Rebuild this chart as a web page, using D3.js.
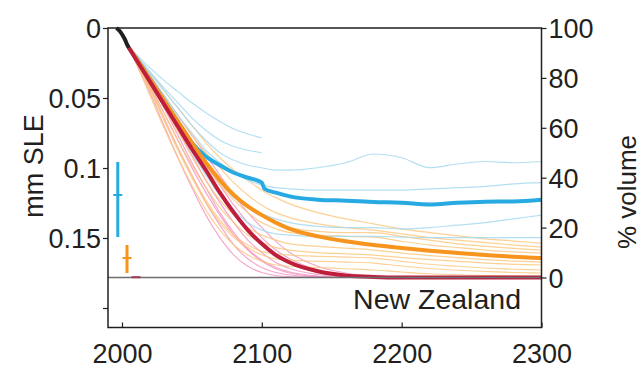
<!DOCTYPE html>
<html><head><meta charset="utf-8">
<script src="https://cdn.jsdelivr.net/npm/d3@7"></script>
<style>
body{margin:0;background:#fff}
text{font-family:"Liberation Sans",Arial,Helvetica,sans-serif;fill:#231f20}
</style>
</head><body>
<svg id="c" width="641" height="375"></svg>
<script>
// ---------- data (volume in %, SLE in mm) ----------
const years = [2005,2010,2020,2030,2040,2050,2060,2070,2080,2090,2100,2110,2120,2140,2160,2180,2200,2220,2240,2260,2280,2300];
const histYears = [1996,1998,2000,2002,2004,2005];
const histVolume = [100,99,97.5,95.5,93,92];

const redMean    = [92,87.5,78.5,69.5,60.5,51.5,43,34,26,19,13.5,9,6,2.5,0.8,0.2,0,0,0,0,0,0];
const orangeMean = [92,88,79.5,71,62.5,54,46,39,33,28.5,25,22,19.5,16.5,14.5,13,11.8,10.7,9.8,9,8.3,7.8];
const blueMeanYears = [2005,2010,2020,2030,2040,2050,2060,2070,2080,2090,2100,2102,2110,2120,2140,2160,2180,2200,2220,2240,2260,2280,2300];
const blueMean      = [92,88,79.5,71,62.5,54,48.5,45,42,40,38,35.5,34,32.5,31.2,30.8,30.3,30,29.3,30,30.4,30.5,31.2];

const pinkMembers = [
  [92,86,74,61,48,36,25,16,9,4.5,2,0.8,0.3,0,0,0,0,0,0,0,0,0],
  [92,87,76,64,52,41,30,21,13,7.5,4,2,1,0.2,0,0,0,0,0,0,0,0],
  [92,88,78,68,57,46,36,26,18,11.5,7,4,2.2,0.6,0.1,0,0,0,0,0,0,0],
  [92,88,79,70,61,52,43,34,26,19,13,8.5,5.5,2,0.6,0.1,0,0,0,0,0,0],
  [92,89,81,73,65,57,49,41,33,26,20,14.5,10,4.5,1.8,0.5,0.1,0,0,0,0,0],
  [92,87.5,77,66,55,44,34,25,17,11,6.5,3.5,1.8,0.4,0,0,0,0,0,0,0,0],
  [92,88.5,80,71.5,63,54,46,37,29,22,16,11,7.5,3,1,0.3,0,0,0,0,0,0],
  [92,88,78.5,69,59,49,39,30,22,15,10,6,3.6,1.2,0.3,0,0,0,0,0,0,0]
];
const orangeMembers = [
  [92,89,82,75,68,61,54,48,43,39,35,32,29.5,26,23.5,21.5,19.5,18,16.7,15.5,14.6,13.8],
  [92,89,81,73,65,57,50,44,38,33,29,26,24,21.5,20,19,17.5,16,15,14,13,12.2],
  [92,88.5,80,72,63,55,47,40,34,29,25,22,20,18.5,18,18,16.5,15,13.5,12.5,11.7,11],
  [92,88,79,70,61,52,44,37,31,26,22,19.5,18,17,16.5,16.2,14.5,13,12,11,10.3,9.8],
  [92,88,78.5,68.5,58.5,48.5,39,31,25,20,17,15,13.5,12.5,11.8,11,9.8,8.8,8,7.2,6.6,6.2],
  [92,87.5,77,66,55,45,36,28,22,17,14,12,11,10,9.5,9,8,7.2,6.5,5.8,5.3,5],
  [92,87,76,64,52,41,31,23,17,13,10.5,9.5,9,8.5,8.2,7.8,6.5,5.3,4.5,3.8,3.3,3],
  [92,86.5,75,63,51,40,30,22,16,12,9,7.5,7,6.5,6.2,5.8,4.6,3.6,2.9,2.4,2,1.8],
  [92,86,73,60,48,37,27,19,13,9,6.5,5,4.5,4,3.5,3,2.2,1.5,1.1,0.8,0.6,0.5]
];
const blueMembers = [
  [92,89.5,84,79,74.5,70,66,62.5,59.5,57.5,56,null,null,null,null,null,null,null,null,null,null,null],
  [92,89,82.5,76,70,64,59,55,52.5,51,50,null,null,null,null,null,null,null,null,null,null,null],
  [92,89,82,75,68,61,55,50,47,45,44,43,43,44,46,49.5,48,44,45.5,46.5,46,46.5],
  [92,89,81,73,65,58,51,46,42,39,37,36,35.5,35,35,35,35,35.5,36,36.5,37.5,38],
  [92,88.5,80,71,62,53,45,38,32,28,25.5,23.5,22,20.5,20,20,19.5,20,21,22,23.5,25],
  [92,88,79,70,60,50,41,33,27,22,19,17.5,17,16.5,16.5,16.5,16.2,16,16,16,16,16]
];

// uncertainty bars (mm SLE)
const errYears = [1997, 2003.6, 2010];
const errLow   = [0.0957, 0.155, 0.178];
const errMid   = [0.1193, 0.1643, 0.178];
const errHigh  = [0.1493, 0.175, 0.178];
const errColors = ["#27aae1", "#f7941d", "#a3384f"];

const sleTicks = [0, 0.05, 0.1, 0.15, 0.2];
const sleTickLabels = ["0", "0.05", "0.1", "0.15", ""];
const volTicks = [0, 20, 40, 60, 80, 100];
const yearTicks = [2000, 2100, 2200, 2300];
const regionName = "New Zealand";

// ---------- layout ----------
const L = 108, R = 541.5, T = 28, B = 327.5;
const svg = d3.select("#c");
const x = d3.scaleLinear().domain([1990, 2300]).range([L, R]);
const ySle = d3.scaleLinear().domain([0, 0.2]).range([T, T + 280]);
const yVol = d3.scaleLinear().domain([0, 100]).range([277.5, T]);

svg.append("defs").append("clipPath").attr("id", "pc")
  .append("rect").attr("x", L).attr("y", T - 2).attr("width", R - L).attr("height", B - T + 2);

const g = svg.append("g").attr("clip-path", "url(#pc)");

const lineGen = d3.line()
  .defined(d => d[1] != null)
  .x(d => x(d[0])).y(d => yVol(d[1]))
  .curve(d3.curveMonotoneX);

const zipY = (ys, vs) => ys.map((yr, i) => [yr, vs[i]]);

// zero line
svg.append("line").attr("x1", L).attr("x2", R).attr("y1", yVol(0)).attr("y2", yVol(0))
  .attr("stroke", "#6d6e71").attr("stroke-width", 1.5);

// thin members
pinkMembers.forEach(m => g.append("path").attr("d", lineGen(zipY(years, m)))
  .attr("fill", "none").attr("stroke", "#f08bbd").attr("stroke-opacity", 0.75).attr("stroke-width", 1.2));
orangeMembers.forEach(m => g.append("path").attr("d", lineGen(zipY(years, m)))
  .attr("fill", "none").attr("stroke", "#fbc57a").attr("stroke-opacity", 0.8).attr("stroke-width", 1.2));
blueMembers.forEach(m => g.append("path").attr("d", lineGen(zipY(years, m)))
  .attr("fill", "none").attr("stroke", "#a6d9f0").attr("stroke-opacity", 0.85).attr("stroke-width", 1.2));

// means
g.append("path").attr("d", lineGen(zipY(blueMeanYears, blueMean)))
  .attr("fill", "none").attr("stroke", "#27aae1").attr("stroke-width", 4);
g.append("path").attr("d", lineGen(zipY(years, orangeMean)))
  .attr("fill", "none").attr("stroke", "#f7941d").attr("stroke-width", 4);
g.append("path").attr("d", lineGen(zipY(years, redMean)))
  .attr("fill", "none").attr("stroke", "#be1e3c").attr("stroke-width", 4);
g.append("path").attr("d", lineGen(zipY(histYears, histVolume)))
  .attr("fill", "none").attr("stroke", "#231f20").attr("stroke-width", 4);

// error bars
errYears.forEach((yr, i) => {
  const cx = x(yr);
  if (errHigh[i] > errLow[i]) {
    svg.append("line").attr("x1", cx).attr("x2", cx)
      .attr("y1", ySle(errLow[i])).attr("y2", ySle(errHigh[i]))
      .attr("stroke", errColors[i]).attr("stroke-width", 3);
  }
  svg.append("line").attr("x1", cx - 4.5).attr("x2", cx + 4.5)
    .attr("y1", ySle(errMid[i])).attr("y2", ySle(errMid[i]))
    .attr("stroke", errColors[i]).attr("stroke-width", 2);
});

// frame
const frameColor = "#231f20";
svg.append("rect").attr("x", L).attr("y", T).attr("width", R - L).attr("height", B - T)
  .attr("fill", "none").attr("stroke", frameColor).attr("stroke-width", 1.5);

const fontFam = '"Liberation Sans",Arial,sans-serif';

// left axis
const leftAxis = d3.axisLeft(ySle).tickValues(sleTicks)
  .tickFormat((d, i) => sleTickLabels[i]).tickSize(5).tickPadding(2);
const la = svg.append("g").attr("transform", `translate(${L},0)`).call(leftAxis);
la.select(".domain").remove();
la.selectAll("line").attr("stroke", frameColor).attr("stroke-width", 1.2);
la.selectAll("text").attr("font-size", 27).attr("fill", "#231f20")
  .style("font-family", fontFam).attr("dy", "0.36em");

// right axis
const rightAxis = d3.axisRight(yVol).tickValues(volTicks).tickSize(5).tickPadding(2);
const ra = svg.append("g").attr("transform", `translate(${R},0)`).call(rightAxis);
ra.select(".domain").remove();
ra.selectAll("line").attr("stroke", frameColor).attr("stroke-width", 1.2);
ra.selectAll("text").attr("font-size", 27).attr("fill", "#231f20")
  .style("font-family", fontFam).attr("dy", "0.36em");

// bottom axis (ticks inward)
const bottomAxis = d3.axisBottom(x).tickValues(yearTicks).tickFormat(d3.format("d"))
  .tickSizeInner(-5).tickSizeOuter(0).tickPadding(16);
const ba = svg.append("g").attr("transform", `translate(0,${B})`).call(bottomAxis);
ba.select(".domain").remove();
ba.selectAll("line").attr("stroke", frameColor).attr("stroke-width", 1.2);
ba.selectAll("text").attr("font-size", 27).attr("fill", "#231f20")
  .style("font-family", fontFam);

// titles
svg.append("text").attr("transform", "translate(43,166) rotate(-90)")
  .attr("text-anchor", "middle").attr("font-size", 27).text("mm SLE");
svg.append("text").attr("transform", "translate(636,192) rotate(-90)")
  .attr("text-anchor", "middle").attr("font-size", 26).text("% volume");
svg.append("text").attr("x", 521).attr("y", 309).attr("text-anchor", "end")
  .attr("font-size", 28.5).text(regionName);
</script>
</body></html>
